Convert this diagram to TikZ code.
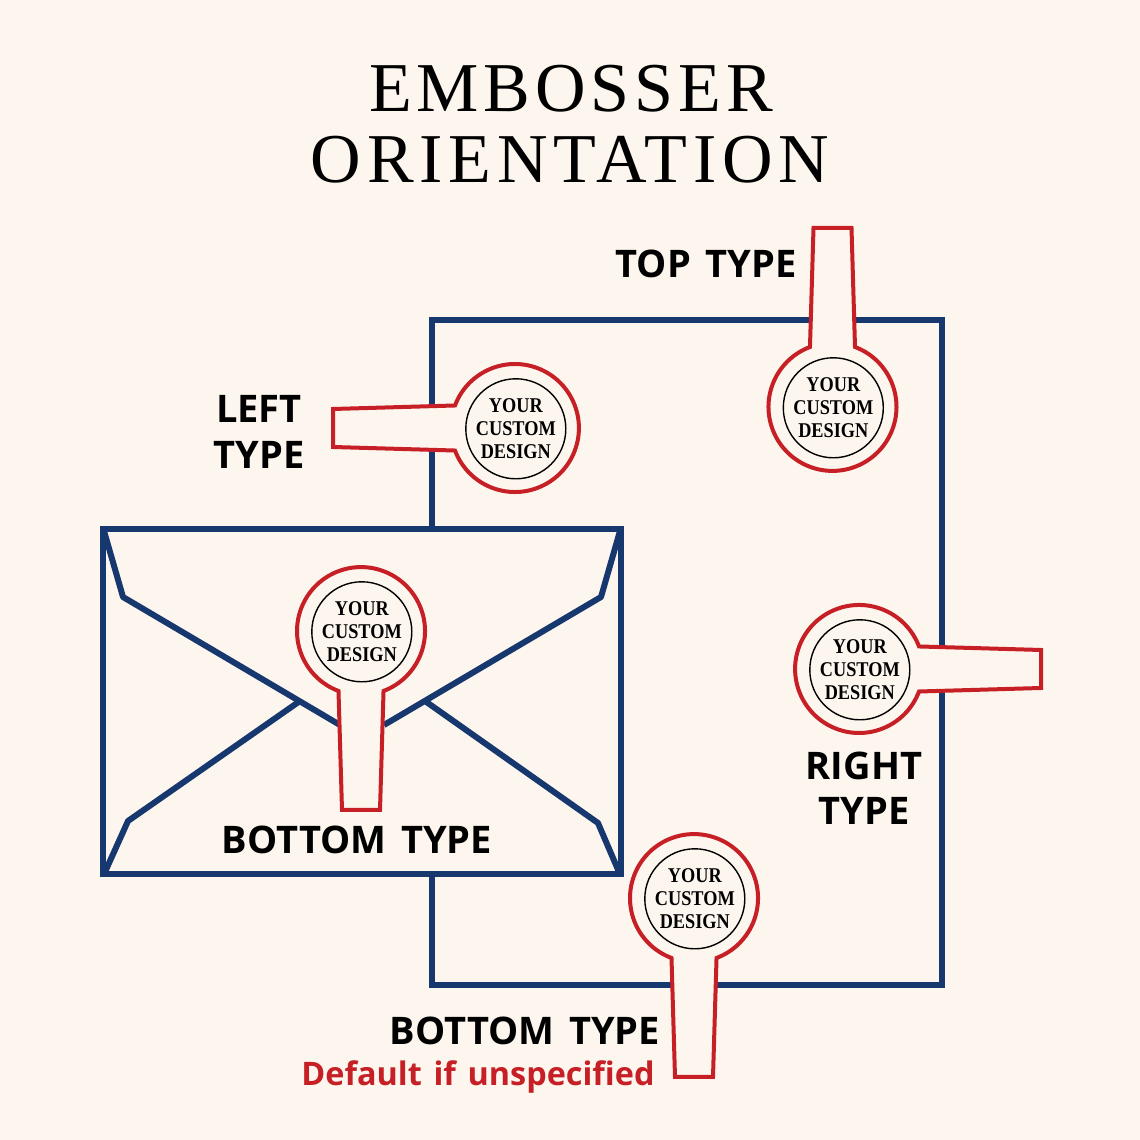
\documentclass[tikz,border=0pt]{standalone}
\usepackage{fontspec}
\setmainfont{Liberation Serif}
\newfontfamily\titlefont[LetterSpace=7]{Liberation Serif}
\newfontfamily\titlefontwide[LetterSpace=8.2]{Liberation Serif}
\newfontfamily\stampfont[FakeStretch=.87]{Liberation Serif}
\newfontfamily\labelfont{Open Sans}
\definecolor{bgc}{HTML}{FDF6EE}
\definecolor{navy}{HTML}{17386F}
\definecolor{stampred}{HTML}{C62026}
\tikzset{
  outline/.style={draw=navy,line width=3pt,line join=miter},
  flap/.style={draw=navy,line width=3pt,line join=round},
  stampbody/.style={draw=stampred,fill=bgc,line width=2pt,line join=miter},
  stampdie/.style={circle,draw=black,line width=.7pt,minimum size=50pt,inner sep=-15pt,
    align=center,font=\stampfont\bfseries\fontsize{10.5}{11.5}\selectfont,text=black},
  titletext/.style={font=\titlefont\fontsize{35}{35}\selectfont,text=black,inner sep=0pt},
  titletextwide/.style={font=\titlefontwide\fontsize{35}{35}\selectfont,text=black,inner sep=0pt},
  typetext/.style={font=\labelfont\bfseries\fontsize{19}{22.7}\selectfont,text=black,inner sep=0pt,align=center},
  defaulttext/.style={font=\labelfont\bfseries\fontsize{16.2}{20}\selectfont,text=stampred,inner sep=0pt}
}
\newcommand{\stampshape}[5]{%
  \begin{scope}[shift={(#2,#3)},rotate=#4]
    \path[stampbody] (-19,#5) -- (19,#5) -- (22.5,60) arc[start angle=69.4,end angle=-249.4,radius=64] -- cycle;
  \end{scope}
  \node[stampdie,xshift=.4pt,yshift=-.4pt] (#1) at (#2,#3) {YOUR\\CUSTOM\\DESIGN};
}
\begin{document}
\begin{tikzpicture}[x=.5pt,y=.5pt]
\useasboundingbox (0,0) rectangle (1140,1140);
\fill[bgc] (0,0) rectangle (1140,1140);
% sheet of paper
\draw[outline] (432,614) -- (432,820) -- (942,820) -- (942,155) -- (432,155) -- (432,266);
% envelope
\draw[outline,fill=bgc] (103,611) rectangle (621,266);
\draw[flap] (104,609) -- (123,543) -- (340,415);
\draw[flap] (620,609) -- (601,543) -- (384,415);
\draw[flap] (105,268) -- (128,319) -- (300,439);
\draw[flap] (619,268) -- (598,317) -- (425,439);
% embossers
\stampshape{stamptop}{832.5}{733}{0}{179}
\stampshape{stampleft}{515}{712}{90}{182}
\stampshape{stampright}{859}{471}{-90}{182}
\stampshape{stampbottom}{694}{242}{180}{179}
\stampshape{stampenv}{361}{509}{180}{179}
% texts
\node[titletext] (title1) at (571,1051) {EMBOSSER};
\node[titletextwide] (title2) at (570,980) {ORIENTATION};
\node[typetext] (toptype) at (706,876) {TOP\hspace{.12em} TYPE};
\node[typetext] (lefttype) at (259,708) {LEFT\\TYPE};
\node[typetext] (righttype) at (864,352) {RIGHT\\TYPE};
\node[typetext] (envtype) at (357,300) {BOTTOM\hspace{.12em} TYPE};
\node[typetext] (bottomtype) at (525,109) {BOTTOM\hspace{.12em} TYPE};
\node[defaulttext] (defaultnote) at (478,63) {Default\hspace{.1em} if\hspace{.1em} unspecified};
\end{tikzpicture}
\end{document}
